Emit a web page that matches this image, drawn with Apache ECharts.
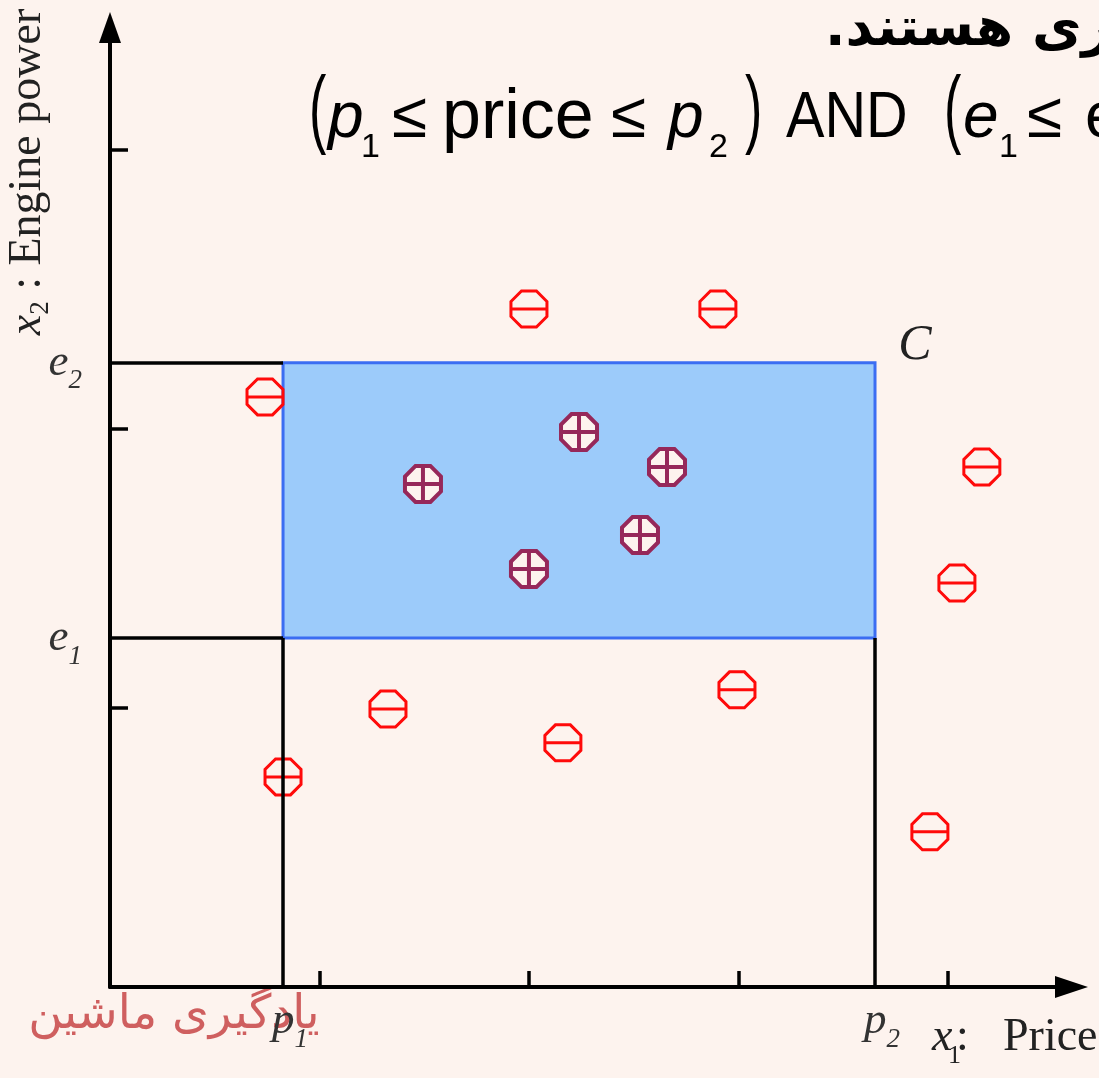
<!DOCTYPE html>
<html>
<head>
<meta charset="utf-8">
<script src="https://cdn.jsdelivr.net/npm/echarts@6/dist/echarts.min.js"></script>
<style>
html,body{margin:0;padding:0;background:#fdf3ee;}
#chart{width:1099px;height:1078px;}
</style>
</head>
<body>
<div id="chart"></div>
<script>
// ---- data (axis units: 1 unit = one tick step) ----
const priceTicks = [1, 2, 3, 4];
const powerTicks = [1, 2, 3];
const p1 = 0.826, p2 = 3.652;   // price bounds of rectangle C
const e1 = 1.251, e2 = 2.237;   // engine power bounds of rectangle C
const xMax = 4.59, yMax = 3.439;

const negX = [2.0, 2.902, 0.74, 4.162, 4.043, 2.993, 1.327, 2.162, 0.826, 3.914];
const negY = [2.43, 2.43, 2.115, 1.864, 1.448, 1.065, 0.996, 0.875, 0.753, 0.556];
const posX = [2.239, 1.494, 2.659, 2.53, 2.0];
const posY = [1.989, 1.803, 1.864, 1.62, 1.498];

const negPts = negX.map((x, i) => [x, negY[i]]);
const posPts = posX.map((x, i) => [x, posY[i]]);

// ---- styling ----
const BG = '#fdf3ee';
const SERIF = '"Liberation Serif", "DejaVu Serif", serif';
const SANS = '"Liberation Sans", Arial, sans-serif';
const oct = 'M0.924,0.383 L0.383,0.924 L-0.383,0.924 L-0.924,0.383 L-0.924,-0.383 L-0.383,-0.924 L0.383,-0.924 L0.924,-0.383 Z';
const minusPath = 'path://' + oct + ' M-0.924,0 L0.924,0';
const plusPath = 'path://' + oct + ' M-0.924,0 L0.924,0 M0,-0.924 L0,0.924';

const chart = echarts.init(document.getElementById('chart'), null, {renderer: 'canvas'});

function t(text, x, y, st, extra) {
  return Object.assign({type: 'text', x: x, y: y, style: Object.assign({text: text, align: 'left', verticalAlign: 'middle', fill: '#000'}, st)}, extra || {});
}
const mReg = {font: '64px ' + SANS};
const mPrice = {font: '70px ' + SANS};
const mIt = {font: 'italic 64px ' + SANS};
const mSub = {font: '34px ' + SANS};
const mPar = {font: '52px ' + SANS};
const PY = 119, SY = 148, PARY = 113, PSC = 1.68;

const labRich = {
  v: {fontFamily: SERIF, fontStyle: 'italic', fontSize: 45, lineHeight: 64, color: '#333'},
  s: {fontFamily: SERIF, fontStyle: 'italic', fontSize: 27, verticalAlign: 'bottom', color: '#333'}
};

const option = {
  backgroundColor: BG,
  animation: false,
  grid: {left: 110, top: 27.5, width: 961.5, height: 959.5, containLabel: false, outerBoundsMode: 'none'},
  xAxis: {
    type: 'value', min: 0, max: xMax, interval: 1,
    splitLine: {show: false},
    axisLine: {show: true, onZero: false, symbol: ['none', 'triangle'], symbolSize: [22, 33], lineStyle: {color: '#000', width: 4}},
    axisTick: {show: true, inside: true, length: 16, customValues: priceTicks, lineStyle: {color: '#000', width: 3.5}},
    axisLabel: {
      show: true, customValues: [p1, p2], margin: 2, padding: [0, 0, 0, 14],
      formatter: v => Math.abs(v - p1) < 1e-6 ? '{v|p}{s|1}' : '{v|p}{s|2}',
      rich: labRich
    }
  },
  yAxis: {
    type: 'value', min: 0, max: yMax, interval: 1,
    splitLine: {show: false},
    axisLine: {show: true, onZero: false, symbol: ['none', 'triangle'], symbolSize: [22, 31], lineStyle: {color: '#000', width: 4}},
    axisTick: {show: true, inside: true, length: 18, customValues: powerTicks, lineStyle: {color: '#000', width: 3.5}},
    axisLabel: {
      show: true, customValues: [e1, e2], margin: 28,
      formatter: v => Math.abs(v - e1) < 1e-6 ? '{v|e}{s|1}' : '{v|e}{s|2}',
      rich: labRich
    }
  },
  series: [
    {
      type: 'scatter', data: [], z: 1, silent: true,
      markArea: {
        silent: true, label: {show: false},
        itemStyle: {color: '#9ccbfa', borderColor: '#3b6df2', borderWidth: 3},
        data: [[{coord: [p1, e1]}, {coord: [p2, e2]}]]
      },
      markLine: {
        silent: true, symbol: ['none', 'none'], label: {show: false},
        lineStyle: {type: 'solid', color: '#000', width: 3.5},
        data: [
          [{coord: [0, e2]}, {coord: [p1, e2]}],
          [{coord: [0, e1]}, {coord: [p1, e1]}],
          [{coord: [p1, 0]}, {coord: [p1, e1]}],
          [{coord: [p2, 0]}, {coord: [p2, e1]}]
        ]
      }
    },
    {
      name: 'negative', type: 'scatter', z: 3, data: negPts,
      symbol: minusPath, symbolSize: 36,
      itemStyle: {color: 'rgba(0,0,0,0)', borderColor: '#ff0a0a', borderWidth: 3, opacity: 1}
    },
    {
      name: 'positive', type: 'scatter', z: 3, data: posPts,
      symbol: plusPath, symbolSize: 36,
      itemStyle: {color: '#fdf3ee', borderColor: '#96285a', borderWidth: 4, opacity: 1}
    }
  ],
  graphic: {
    elements: [
      // Persian heading (cut at right edge)
      t('.موازی هستند', 825, 31, {font: 'bold 54px "DejaVu Sans", sans-serif'}),
      // formula line
      t('(', 309, PARY, mPar, {scaleY: PSC}),
      t('p', 328, PY, mIt),
      t('1', 361, SY, mSub),
      t('≤', 392, PY, mReg),
      t('price', 442, PY, mPrice),
      t('≤', 611, PY, mReg),
      t('p', 668, PY, mIt),
      t('2', 709, SY, mSub),
      t(')', 745, PARY, mPar, {scaleY: PSC}),
      t('AND', 786, PY, mReg, {scaleX: 0.9}),
      t('(', 944, PARY, mPar, {scaleY: PSC}),
      t('e', 963, PY, mIt),
      t('1', 999, SY, mSub),
      t('≤', 1027, PY, mReg),
      t('engine', 1085, PY, mReg),
      // rectangle label
      t('C', 915, 346, {font: 'italic 50px ' + SERIF, align: 'center', fill: '#222'}),
      // y-axis title (rotated)
      {
        type: 'text', x: 28, y: 172, rotation: Math.PI / 2,
        style: {
          text: '{x|x}{s|2}{n| : Engine power}', align: 'center', verticalAlign: 'middle',
          rich: {
            x: {fontFamily: SERIF, fontStyle: 'italic', fontSize: 46, lineHeight: 52, fill: '#222'},
            s: {fontFamily: SERIF, fontSize: 27, verticalAlign: 'bottom', fill: '#222'},
            n: {fontFamily: SERIF, fontSize: 46, lineHeight: 52, fill: '#222'}
          }
        }
      },
      // x-axis title
      t('x', 932, 1038, {font: 'italic 46px ' + SERIF, fill: '#222'}),
      t('1', 948, 1056, {font: '26px ' + SERIF, fill: '#222'}),
      t(':', 956, 1038, {font: '46px ' + SERIF, fill: '#222'}),
      t('Price', 1003, 1038, {font: '46px ' + SERIF, fill: '#222'}),
      // watermark
      t('یادگیری ماشین', 174, 1016, {font: '47px "DejaVu Sans", sans-serif', align: 'center', fill: '#cf5f5f'})
    ]
  }
};
chart.setOption(option);
</script>
</body>
</html>
